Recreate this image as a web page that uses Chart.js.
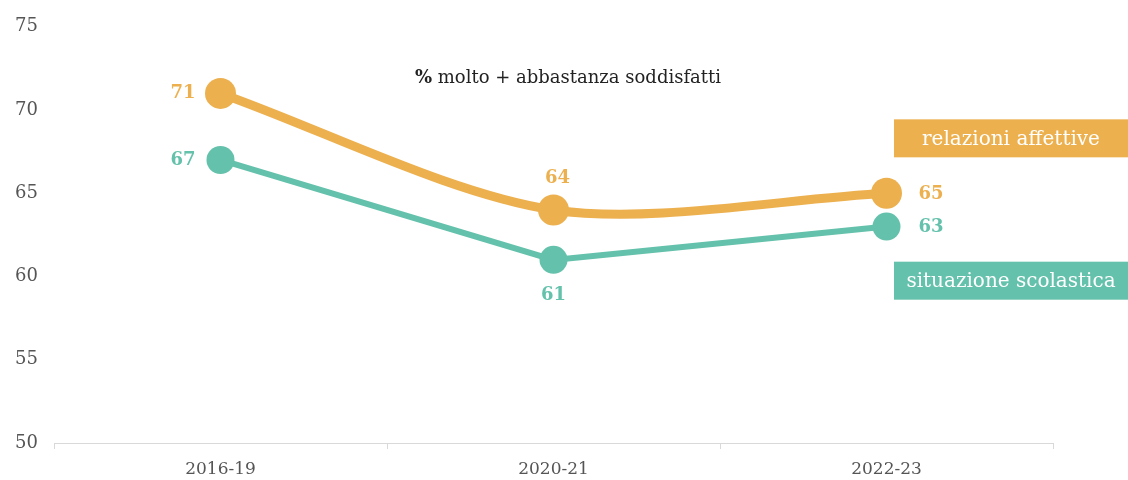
<!DOCTYPE html>
<html>
<head>
<meta charset="utf-8">
<script src="https://cdn.jsdelivr.net/npm/chart.js@4"></script>
<style>
  html, body { margin: 0; padding: 0; background: #fff; }
  #wrap { width: 1128px; height: 480px; position: relative; }
</style>
</head>
<body>
<div id="wrap"><canvas id="chart"></canvas></div>
<script>
const categories = ['2016-19', '2020-21', '2022-23'];
const relazioniAffettive = [71, 64, 65];
const situazioneScolastica = [67, 61, 63];
const seriesNames = ['relazioni affettive', 'situazione scolastica'];
const chartTitle = 'molto + abbastanza soddisfatti';

const ORANGE = '#EDB04F';
const GREEN = '#64C1AB';
const SERIF = '"DejaVu Serif", "Liberation Serif", serif';

// value labels: position relative to the point
const labelPlacement = [
  ['left', 'above', 'right'],
  ['left', 'below', 'right']
];

const overlayPlugin = {
  id: 'overlay',
  afterDatasetsDraw(chart) {
    const ctx = chart.ctx;
    ctx.save();

    // point value labels
    chart.data.datasets.forEach((ds, di) => {
      const meta = chart.getDatasetMeta(di);
      ctx.fillStyle = ds.borderColor;
      ctx.font = 'bold 18px ' + SERIF;
      meta.data.forEach((pt, i) => {
        const where = labelPlacement[di][i];
        const text = String(ds.data[i]);
        ctx.textBaseline = 'middle';
        if (where === 'left') {
          ctx.textAlign = 'right';
          ctx.fillText(text, pt.x - 25, pt.y);
        } else if (where === 'right') {
          ctx.textAlign = 'left';
          ctx.fillText(text, pt.x + 32, pt.y + 1);
        } else if (where === 'above') {
          ctx.textAlign = 'center';
          ctx.fillText(text, pt.x + 4, pt.y - 32);
        } else {
          ctx.textAlign = 'center';
          ctx.fillText(text, pt.x, pt.y + 35);
        }
      });
    });

    // series name boxes at the right edge
    const boxLeft = 894;
    const boxRight = chart.width;
    const boxH = 38;
    const boxes = [
      { text: seriesNames[0], color: ORANGE, y: chart.scales.y.getPixelForValue(68.3) },
      { text: seriesNames[1], color: GREEN, y: chart.scales.y.getPixelForValue(59.75) }
    ];
    boxes.forEach(b => {
      ctx.fillStyle = b.color;
      ctx.fillRect(boxLeft, b.y - boxH / 2, boxRight - boxLeft, boxH);
      ctx.fillStyle = '#fff';
      ctx.font = '20px ' + SERIF;
      ctx.textAlign = 'center';
      ctx.textBaseline = 'middle';
      ctx.fillText(b.text, (boxLeft + boxRight) / 2, b.y + 1);
    });

    // title with bold percent sign
    ctx.fillStyle = '#222';
    ctx.textBaseline = 'middle';
    ctx.textAlign = 'left';
    ctx.font = 'bold 18px ' + SERIF;
    const pctW = ctx.measureText('%').width;
    ctx.font = '18px ' + SERIF;
    const restW = ctx.measureText(' ' + chartTitle).width;
    let x = 568 - (pctW + restW) / 2;
    ctx.font = 'bold 18px ' + SERIF;
    ctx.fillText('%', x, 78);
    ctx.font = '18px ' + SERIF;
    ctx.fillText(' ' + chartTitle, x + pctW, 78);

    ctx.restore();
  }
};

new Chart(document.getElementById('chart'), {
  type: 'line',
  data: {
    labels: categories,
    datasets: [
      {
        label: seriesNames[0],
        data: relazioniAffettive,
        borderColor: ORANGE,
        backgroundColor: ORANGE,
        borderWidth: 9,
        tension: 0.3,
        pointRadius: 15.5,
        pointHoverRadius: 15.5,
        pointBorderWidth: 0,
        clip: false
      },
      {
        label: seriesNames[1],
        data: situazioneScolastica,
        borderColor: GREEN,
        backgroundColor: GREEN,
        borderWidth: 6,
        tension: 0,
        pointRadius: 14,
        pointHoverRadius: 14,
        pointBorderWidth: 0,
        clip: false
      }
    ]
  },
  options: {
    responsive: true,
    maintainAspectRatio: false,
    animation: false,
    layout: { padding: { top: 19, right: 75, left: 0, bottom: 0 } },
    plugins: {
      legend: { display: false },
      tooltip: { enabled: false }
    },
    scales: {
      x: {
        offset: true,
        afterFit: s => { s.height = 37; },
        grid: {
          display: true,
          drawOnChartArea: false,
          offset: true,
          tickLength: 6,
          color: '#d9d9d9'
        },
        border: { display: true, color: '#d9d9d9', width: 1 },
        ticks: {
          color: '#555',
          font: { family: SERIF, size: 17 },
          padding: 10
        }
      },
      y: {
        min: 50,
        max: 75,
        afterFit: s => { s.width = 54; },
        grid: { display: false, drawTicks: false },
        border: { display: false },
        ticks: {
          stepSize: 5,
          color: '#555',
          font: { family: SERIF, size: 18 },
          padding: 16
        }
      }
    }
  },
  plugins: [overlayPlugin]
});
</script>
</body>
</html>
